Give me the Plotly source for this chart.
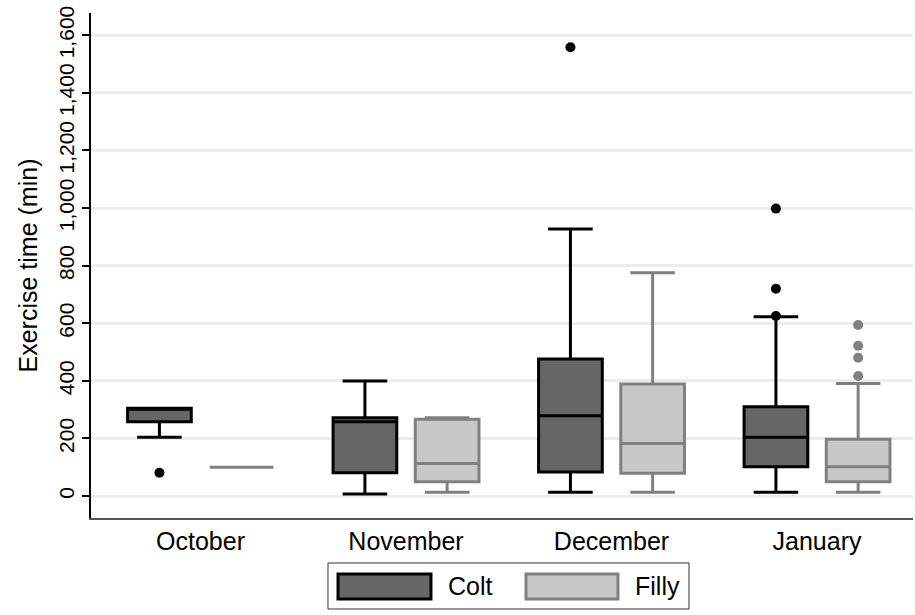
import plotly.graph_objects as go

# ---- data ----
months = ["October", "November", "December", "January"]

colt_q1 = [258, 81, 84, 102]
colt_median = [305, 258, 279, 204]
colt_q3 = [305, 272, 476, 310]
colt_lower = [204, 7, 13, 13]
colt_upper = [305, 400, 927, 623]
colt_outliers = [[81], [], [1558], [998, 720, 625]]

filly_q1 = [100, 50, 79, 50]
filly_median = [100, 113, 183, 102]
filly_q3 = [100, 267, 389, 197]
filly_lower = [100, 13, 13, 13]
filly_upper = [100, 272, 775, 391]
filly_outliers = [[], [], [], [594, 522, 480, 417]]

y_tickvals = [0, 200, 400, 600, 800, 1000, 1200, 1400, 1600]
y_ticktext = ["0", "200", "400", "600", "800", "1,000", "1,200", "1,400", "1,600"]

# ---- styles ----
FONT = "Liberation Sans, Arial, sans-serif"
COLT_FILL = "#666666"
COLT_LINE = "#000000"
FILLY_FILL = "#c8c8c8"
FILLY_LINE = "#808080"
OFFSET = 0.2
BOX_W = 0.31

cat_idx = list(range(len(months)))
colt_x = [i - OFFSET for i in cat_idx]
filly_x = [i + OFFSET for i in cat_idx]

fig = go.Figure()

fig.add_trace(go.Box(
    name="Colt", x=colt_x, q1=colt_q1, median=colt_median, q3=colt_q3,
    lowerfence=colt_lower, upperfence=colt_upper,
    width=BOX_W, whiskerwidth=0.7, fillcolor=COLT_FILL,
    line=dict(color=COLT_LINE, width=3), boxpoints=False, showlegend=False,
))
fig.add_trace(go.Box(
    name="Filly", x=filly_x, q1=filly_q1, median=filly_median, q3=filly_q3,
    lowerfence=filly_lower, upperfence=filly_upper,
    width=BOX_W, whiskerwidth=0.7, fillcolor=FILLY_FILL,
    line=dict(color=FILLY_LINE, width=3), boxpoints=False, showlegend=False,
))

ox, oy = [], []
for xi, vals in zip(colt_x, colt_outliers):
    for v in vals:
        ox.append(xi); oy.append(v)
fig.add_trace(go.Scatter(x=ox, y=oy, mode="markers", showlegend=False,
                         marker=dict(color=COLT_LINE, size=10)))
fx, fy = [], []
for xi, vals in zip(filly_x, filly_outliers):
    for v in vals:
        fx.append(xi); fy.append(v)
fig.add_trace(go.Scatter(x=fx, y=fy, mode="markers", showlegend=False,
                         marker=dict(color=FILLY_LINE, size=10)))

# ---- custom legend (paper coordinates) ----
shapes = [
    dict(type="rect", xref="paper", yref="paper", x0=0.2883, x1=0.7275, y0=-0.0891, y1=-0.1802,
         line=dict(color="#333333", width=1), fillcolor="white"),
    dict(type="rect", xref="paper", yref="paper", x0=0.3005, x1=0.4136, y0=-0.1109, y1=-0.1604,
         line=dict(color=COLT_LINE, width=3), fillcolor=COLT_FILL),
    dict(type="rect", xref="paper", yref="paper", x0=0.5292, x1=0.6411, y0=-0.1109, y1=-0.1604,
         line=dict(color=FILLY_LINE, width=3), fillcolor=FILLY_FILL),
]
annotations = [
    dict(text="Colt", xref="paper", yref="paper", x=0.4319, y=-0.1356, xanchor="left",
         yanchor="middle", showarrow=False, font=dict(family=FONT, size=25, color="black")),
    dict(text="Filly", xref="paper", yref="paper", x=0.6594, y=-0.1356, xanchor="left",
         yanchor="middle", showarrow=False, font=dict(family=FONT, size=25, color="black")),
]

fig.update_layout(
    width=915, height=615,
    margin=dict(l=91, r=2, t=13, b=97),
    paper_bgcolor="white", plot_bgcolor="white",
    font=dict(family=FONT, color="black"),
    shapes=shapes, annotations=annotations,
    showlegend=False,
    xaxis=dict(
        range=[-0.533, 3.467], tickvals=cat_idx, ticktext=months,
        showgrid=False, zeroline=False, showline=True, linecolor="#555555", linewidth=2,
        ticks="", tickfont=dict(size=25, family=FONT, color="black"),
    ),
    yaxis=dict(
        range=[-76, 1677], tickvals=y_tickvals, ticktext=y_ticktext, tickangle=-90,
        showgrid=True, gridcolor="#ececec", gridwidth=2.5, zeroline=False,
        showline=True, linecolor="black", linewidth=1.5,
        ticks="outside", ticklen=7, tickwidth=1.5, tickcolor="black",
        tickfont=dict(size=21, family=FONT, color="black"),
        title=dict(text="Exercise time (min)", font=dict(size=25, family=FONT, color="black"),
                   standoff=10),
    ),
)

fig.write_html("out.html")
